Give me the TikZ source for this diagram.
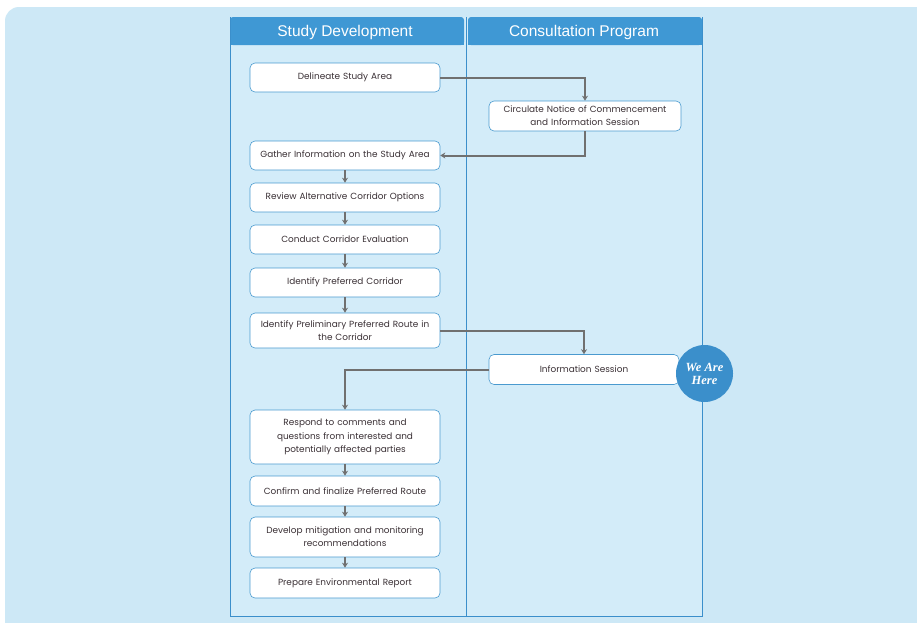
\documentclass[tikz,border=0pt]{standalone}
\usepackage{fontspec}
\setmainfont{Liberation Sans}
\newfontfamily\hereserif{Liberation Serif}
\newfontfamily\boxfont{Poppins}
\usetikzlibrary{arrows.meta}
\definecolor{bgblue}{HTML}{CDE8F6}
\definecolor{lanefill}{HTML}{D3ECF9}
\definecolor{laneblue}{HTML}{3B8FCB}
\definecolor{headblue}{HTML}{3F98D4}
\definecolor{arrowgray}{HTML}{707070}
\definecolor{boxtext}{HTML}{3A3035}
\definecolor{boxline}{HTML}{4A9ACF}
\begin{document}
\begin{tikzpicture}[x=1pt,y=-1pt,
  stepbox/.style={draw=boxline, line width=0.6pt, fill=white, rounded corners=5pt,
    text=boxtext, font=\boxfont\fontsize{8.9}{13.2}\selectfont, align=center,
    minimum width=190pt, text width=188pt, inner sep=0pt},
  conn/.style={draw=arrowgray, line width=2pt, -{Stealth[length=5pt,width=6pt]}},
  headtext/.style={text=white, font=\fontsize{15.5}{17}\selectfont},
]
\useasboundingbox (0,0) rectangle (917,622);
\fill[white] (0,0) rectangle (917,622);
\fill[bgblue, rounded corners=14pt] (5,7) rectangle (935,640);

% swimlanes
\fill[lanefill] (230,17) rectangle (702,616);
\fill[headblue, rounded corners=3pt] (230,17) rectangle (464,45);
\fill[headblue] (230,30) rectangle (464,45);
\fill[headblue, rounded corners=3pt] (468,17) rectangle (702,45);
\fill[headblue] (468,30) rectangle (702,45);
\draw[laneblue, line width=0.9pt] (230,17) -- (230,616) -- (702,616) -- (702,17);
\draw[laneblue, line width=0.9pt] (466,17) -- (466,616);
\node[headtext] (h1) at (345,32) {Study Development};
\node[headtext] (h2) at (584,32) {Consultation Program};

% left column
\node[stepbox, minimum height=29pt] (delin) at (345,77.5) {Delineate Study Area};
\node[stepbox, minimum height=29pt] (gather) at (345,155.5) {Gather Information on the Study Area};
\node[stepbox, minimum height=29pt] (review) at (345,197.5) {Review Alternative Corridor Options};
\node[stepbox, minimum height=29pt] (conduct) at (345,239.5) {Conduct Corridor Evaluation};
\node[stepbox, minimum height=29pt] (prefcorr) at (345,282.5) {Identify Preferred Corridor};
\node[stepbox, minimum height=35pt] (prelim) at (345,330.5) {Identify Preliminary Preferred Route in\\the Corridor};
\node[stepbox, minimum height=54pt] (respond) at (345,437) {Respond to comments and\\questions from interested and\\potentially affected parties};
\node[stepbox, minimum height=30pt] (confirm) at (345,491) {Confirm and finalize Preferred Route};
\node[stepbox, minimum height=40pt] (develop) at (345,537) {Develop mitigation and monitoring\\recommendations};
\node[stepbox, minimum height=30pt] (prepare) at (345,583) {Prepare Environmental Report};

% right column
\node[stepbox, minimum width=192pt, minimum height=30pt] (circ) at (585,116) {Circulate Notice of Commencement\\and Information Session};
\node[stepbox, minimum height=30pt] (info) at (584,369.5) {Information Session};

% connectors
\draw[conn] (delin.east) -| (circ.north);
\draw[conn] (circ.south) |- (gather.east);
\draw[conn] (gather.south) -- (review.north);
\draw[conn] (review.south) -- (conduct.north);
\draw[conn] (conduct.south) -- (prefcorr.north);
\draw[conn] (prefcorr.south) -- (prelim.north);
\draw[conn] (prelim.east) -| (info.north);
\draw[conn] (info.west) -| (respond.north);
\draw[conn] (respond.south) -- (confirm.north);
\draw[conn] (confirm.south) -- (develop.north);
\draw[conn] (develop.south) -- (prepare.north);

% we are here badge
\node[circle, fill=laneblue, minimum size=57pt, inner sep=0pt, text=white,
  font=\hereserif\bfseries\itshape\fontsize{12.5}{13}\selectfont, align=center]
  (here) at (704.5,373.5) {We Are\\Here};
\end{tikzpicture}
\end{document}
